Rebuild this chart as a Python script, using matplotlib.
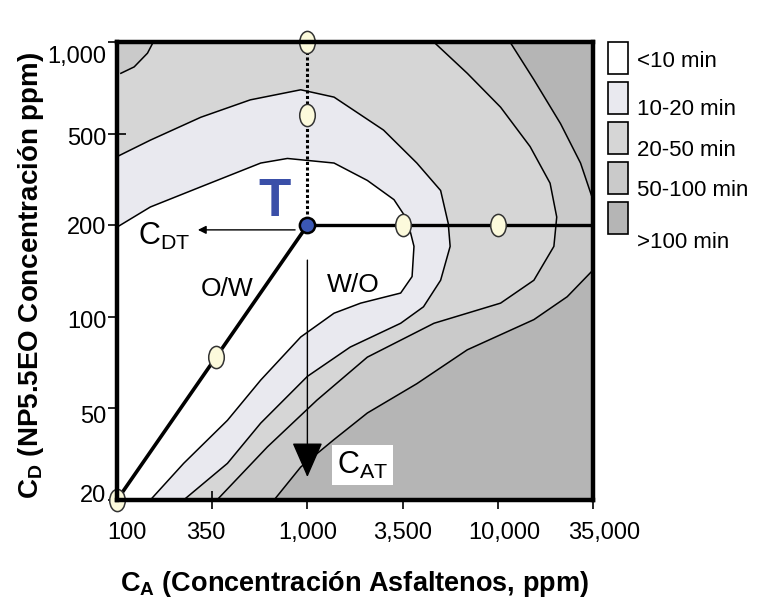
import matplotlib
matplotlib.use("Agg")
import matplotlib.pyplot as plt
from matplotlib.path import Path
from matplotlib.patches import Rectangle
from matplotlib.transforms import Affine2D, ScaledTranslation

plt.rcParams['font.family'] = ['Liberation Sans', 'DejaVu Sans']
plt.rcParams['mathtext.fontset'] = 'custom'
plt.rcParams['mathtext.rm'] = 'Liberation Sans'
plt.rcParams['mathtext.it'] = 'Liberation Sans'
plt.rcParams['mathtext.bf'] = 'Liberation Sans:bold'

# --- data (coded levels: ticks are evenly spaced on both axes) ---
x_labels = ['100', '350', '1,000', '3,500', '10,000', '35,000']
y_labels = ['20', '50', '100', '200', '500', '1,000']

legend_labels = ['<10 min', '10-20 min', '20-50 min', '50-100 min', '>100 min']
legend_colors = ['#ffffff', '#e9e9ef', '#d6d6d6', '#cacaca', '#b5b5b5']

# contour boundaries (level index coordinates)
bound_a_x = [0.0, 0.35, 0.88, 1.51, 1.79, 2.28, 2.63, 2.91, 3.05, 3.12, 3.10, 2.98, 2.56, 2.28, 1.93, 1.51, 1.16, 0.70, 0.35]
bound_a_y = [2.98, 3.20, 3.42, 3.68, 3.73, 3.68, 3.49, 3.28, 3.06, 2.77, 2.44, 2.26, 2.15, 2.04, 1.78, 1.31, 0.87, 0.40, 0.0]

bound_b_x = [0.0, 0.35, 0.88, 1.40, 1.93, 2.28, 2.80, 3.15, 3.40, 3.48, 3.50, 3.40, 3.22, 2.98, 2.45, 2.00, 1.51, 1.16, 0.70]
bound_b_y = [3.75, 3.93, 4.18, 4.37, 4.48, 4.40, 4.04, 3.68, 3.38, 3.02, 2.77, 2.40, 2.11, 1.93, 1.67, 1.35, 0.84, 0.40, 0.0]

bound_c_x = [3.33, 3.68, 4.03, 4.34, 4.55, 4.62, 4.59, 4.38, 4.03, 3.33, 2.63, 2.10, 1.58, 1.05]
bound_c_y = [5.0, 4.66, 4.29, 3.86, 3.46, 3.09, 2.77, 2.40, 2.15, 1.93, 1.56, 1.09, 0.58, 0.0]

bound_d1_x = [4.13, 4.38, 4.66, 4.87, 5.0]
bound_d1_y = [5.0, 4.59, 4.11, 3.68, 3.28]

bound_d2_x = [5.0, 4.73, 4.38, 3.68, 3.15, 2.63, 2.28, 1.93, 1.65]
bound_d2_y = [2.51, 2.22, 1.97, 1.64, 1.27, 0.95, 0.66, 0.36, 0.0]

corner_x = [0.0, 0.38, 0.32, 0.18, 0.04, 0.0]
corner_y = [5.0, 5.0, 4.88, 4.73, 4.66, 4.66]

# experimental points
scan_x = [2, 2, 3, 4, 1.04, 0]
scan_y = [5, 4.2, 3, 3, 1.56, 0]
opt_x, opt_y = 2, 3

fig = plt.figure(figsize=(7.7, 6.0), dpi=100)
ax = fig.add_axes([0.152, 0.1667, 0.618, 0.763])
ax.set_xlim(0, 5)
ax.set_ylim(0, 5)

# filled zones
ax.add_patch(Rectangle((0, 0), 5, 5, facecolor=legend_colors[2], edgecolor='none', zorder=0))
ax.fill(bound_c_x + [5, 5], bound_c_y + [0, 5], color=legend_colors[3], lw=0, zorder=1)
ax.fill(bound_d1_x + [5], bound_d1_y + [5], color=legend_colors[4], lw=0, zorder=2)
ax.fill(bound_d2_x + [5], bound_d2_y + [0], color=legend_colors[4], lw=0, zorder=2)
ax.fill(bound_b_x + [0], bound_b_y + [0], color=legend_colors[1], lw=0, zorder=3)
ax.fill(bound_a_x + [0], bound_a_y + [0], color=legend_colors[0], lw=0, zorder=4)
ax.fill(corner_x, corner_y, color=legend_colors[3], lw=0, zorder=4)

for bx, by in [(bound_a_x, bound_a_y), (bound_b_x, bound_b_y), (bound_c_x, bound_c_y),
               (bound_d1_x, bound_d1_y), (bound_d2_x, bound_d2_y), (corner_x[1:5], corner_y[1:5])]:
    ax.plot(bx, by, color='black', lw=1.1, zorder=5)

# scan lines
ax.plot([0, opt_x], [0, opt_y], color='black', lw=2.6, zorder=6, solid_capstyle='butt')
ax.plot([opt_x, 5], [opt_y, opt_y], color='black', lw=2.4, zorder=6)
ax.plot([opt_x, opt_x], [opt_y, 5], color='black', lw=2.2, ls=(0, (1, 0.8)), zorder=6)

# arrows
ax.annotate('', xy=(0.82, 2.95), xytext=(1.9, 2.95),
            arrowprops=dict(arrowstyle='-|>', color='black', lw=1.0, mutation_scale=12), zorder=7)
ax.annotate('', xy=(2.0, 0.22), xytext=(2.0, 2.65),
            arrowprops=dict(arrowstyle='-|>,head_length=1.6,head_width=0.7', color='black', lw=1.0,
                            mutation_scale=14), zorder=7)

# markers
ellipse = Path.unit_circle().transformed(Affine2D().scale(0.7, 1.0))
ax.plot(scan_x, scan_y, ls='none', marker=ellipse, ms=16, mfc='#fcfadc', mec='#333333', mew=1.1,
        zorder=8, clip_on=False)
ax.plot([opt_x], [opt_y], ls='none', marker='o', ms=11, mfc='#3b58b4', mec='black', mew=1.8,
        zorder=9, clip_on=False)

# annotations
ax.text(1.66, 3.25, 'T', color='#3a4fa8', fontsize=38, fontweight='bold', ha='center', va='center', zorder=9)
ax.text(0.5, 2.88, r'$\mathrm{C_{DT}}$', fontsize=22, ha='center', va='center', zorder=9)
ax.text(1.16, 2.3, 'O/W', fontsize=19, ha='center', va='center', zorder=9)
ax.text(2.48, 2.35, 'W/O', fontsize=19, ha='center', va='center', zorder=9)
ax.text(2.58, 0.38, r'$\mathrm{C_{AT}}$', fontsize=22, ha='center', va='center', zorder=9,
        bbox=dict(boxstyle='square,pad=0.15', facecolor='white', edgecolor='none'))

# axes styling
ax.set_xticks(range(len(x_labels)))
ax.set_xticklabels(x_labels, fontsize=17)
ax.set_yticks(range(len(y_labels)))
ax.set_yticklabels(y_labels, fontsize=17)
ax.tick_params(direction='inout', length=13, width=1.2)
ax.tick_params(axis='x', pad=9)
ax.tick_params(axis='y', pad=1)
for s in ax.spines.values():
    s.set_linewidth(3.2)
    s.set_zorder(10)

# small per-label nudges seen in the reference (pixels)
for lbl, dx in zip(ax.get_xticklabels(), [10, -6, 0, 0, 7, 11]):
    lbl.set_transform(lbl.get_transform() + ScaledTranslation(dx / 100, 0, fig.dpi_scale_trans))
for lbl, dy in zip(ax.get_yticklabels(), [6, -6, -3, 0, -3, -12]):
    lbl.set_transform(lbl.get_transform() + ScaledTranslation(0, dy / 100, fig.dpi_scale_trans))

ax.set_xlabel(r'$\mathbf{C_A}$ (Concentración Asfaltenos, ppm)', fontsize=19.5, fontweight='bold')
ax.xaxis.set_label_coords(0.5, -0.15)
ax.set_ylabel(r'$\mathbf{C_D}$ (NP5.5EO Concentración ppm)', fontsize=20, fontweight='bold')
ax.yaxis.set_label_coords(-0.15, 0.49)

# legend drawn as boxes on the right
label_offsets = [0.033, 0.045, 0.048, 0.048, 0.067]
for i, (lab, col) in enumerate(zip(legend_labels, legend_colors)):
    top = 0.930 - i * 0.0667
    fig.patches.append(Rectangle((0.790, top - 0.053), 0.026, 0.053, transform=fig.transFigure,
                                 facecolor=col, edgecolor='black', lw=1.2))
    fig.text(0.827, top - label_offsets[i], lab, fontsize=16, ha='left', va='center')

fig.savefig('out.png', dpi=100)
